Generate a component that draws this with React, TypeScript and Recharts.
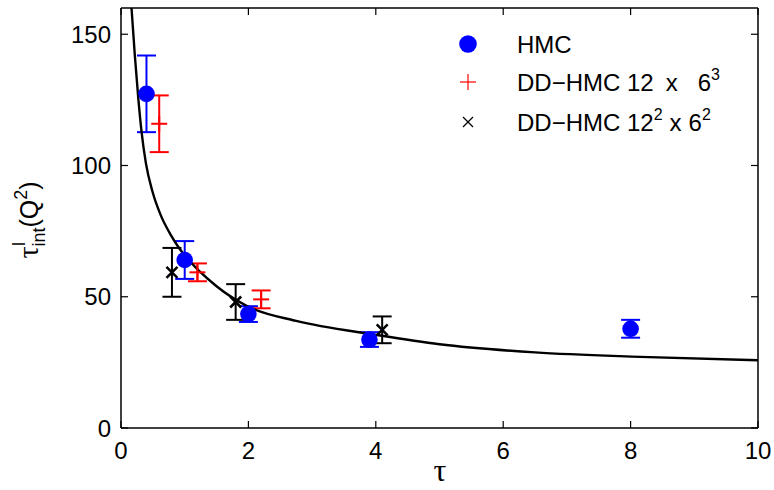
import { ComposedChart, ErrorBar, Legend, Line, Scatter, XAxis, YAxis } from "recharts"

const FONT = "'Liberation Sans', Arial, Helvetica, sans-serif"
const GREEK = "'Liberation Serif', 'DejaVu Serif', serif"
const BLUE = "#0000ff"
const RED = "#ff0000"
const BLACK = "#000000"

const X_TICKS = [0, 2, 4, 6, 8, 10]
const Y_TICKS = [0, 50, 100, 150]

// measurements, value +/- err
const HMC = [
  { tau: 0.4, value: 127.3, err: 14.6 },
  { tau: 1.0, value: 64.0, err: 7.2 },
  { tau: 2.0, value: 43.4, err: 3.0 },
  { tau: 3.9, value: 33.7, err: 2.8 },
  { tau: 8.0, value: 37.8, err: 3.4 },
]

const DD_HMC_12x6_3 = [
  { tau: 0.6, value: 115.9, err: 10.8 },
  { tau: 1.2, value: 59.3, err: 3.4 },
  { tau: 2.2, value: 49.0, err: 3.4 },
]

const DD_HMC_12_2x6_2 = [
  { tau: 0.8, value: 59.3, err: 9.3 },
  { tau: 1.8, value: 48.0, err: 6.8 },
  { tau: 4.1, value: 37.4, err: 5.1 },
]

// fit curve
const FIT_TAU = [0.165, 0.217, 0.27, 0.322, 0.39, 0.495, 0.625, 0.783, 0.914, 1.0, 1.5, 2.0, 2.75, 4.0, 5.0, 6.5, 8.15, 10]
const FIT_VALUE = [160, 142, 126, 113, 101, 90, 81, 73.5, 68.5, 65.8, 54, 46.2, 40.8, 35.5, 31.9, 28.8, 27.1, 25.8]

const fit = FIT_TAU.map((tau, i) => ({ tau, value: FIT_VALUE[i] }))

const FRAME = { stroke: BLACK, strokeWidth: 1.5 }
const TICK_LINE = { stroke: BLACK, strokeWidth: 1.2 }

const BottomTick = ({ x, y, payload }: any) => (
  <g>
    <line x1={x} y1={y} x2={x} y2={y - 7} stroke={BLACK} strokeWidth={1.2} />
    <text x={x} y={y + 31} textAnchor="middle" fontSize={24} fontFamily={FONT} fill={BLACK}>
      {payload.value}
    </text>
  </g>
)

const LeftTick = ({ x, y, payload }: any) => (
  <g>
    <line x1={x} y1={y} x2={x + 7} y2={y} stroke={BLACK} strokeWidth={1.2} />
    <text x={x - 10} y={y + 8.5} textAnchor="end" fontSize={24} fontFamily={FONT} fill={BLACK}>
      {payload.value}
    </text>
  </g>
)

const EmptyTick = () => <g />

const BlueDot = ({ cx, cy }: any) => <circle cx={cx} cy={cy} r={8.3} fill={BLUE} />

const RedPlus = ({ cx, cy }: any) => (
  <g stroke={RED} strokeWidth={2}>
    <line x1={cx - 8} y1={cy} x2={cx + 8} y2={cy} />
    <line x1={cx} y1={cy - 8} x2={cx} y2={cy + 8} />
  </g>
)

const BlackCross = ({ cx, cy }: any) => (
  <g stroke={BLACK} strokeWidth={2.5}>
    <line x1={cx - 5.5} y1={cy - 5.5} x2={cx + 5.5} y2={cy + 5.5} />
    <line x1={cx - 5.5} y1={cy + 5.5} x2={cx + 5.5} y2={cy - 5.5} />
  </g>
)

const XTitle = () => (
  <text x={440} y={481} textAnchor="middle" fontSize={32} fontFamily={GREEK} fill={BLACK}>
    τ
  </text>
)

const YTitle = () => (
  <text transform="translate(38,220) rotate(-90)" textAnchor="middle" fontSize={25} fontFamily={FONT} fill={BLACK}>
    <tspan fontFamily={GREEK} fontSize={30}>τ</tspan>
    <tspan fontSize={18} dy={-13}>I</tspan>
    <tspan fontSize={18} dx={-5} dy={20}>int</tspan>
    <tspan dy={-7}>(Q</tspan>
    <tspan fontSize={18} dy={-11}>2</tspan>
    <tspan dy={11}>)</tspan>
  </text>
)

const LegendBox = () => (
  <svg width={330} height={130} style={{ display: "block" }}>
    <g fontSize={24} fontFamily={FONT} fill={BLACK}>
      <circle cx={28} cy={24} r={8.8} fill={BLUE} />
      <text x={77} y={33}>HMC</text>

      <g stroke={RED} strokeWidth={1.2}>
        <line x1={20} y1={62} x2={36} y2={62} />
        <line x1={28} y1={54} x2={28} y2={70} />
      </g>
      <text x={77} y={71}>
        DD−HMC 12
        <tspan dx={12}>x</tspan>
        <tspan dx={20}>6</tspan>
        <tspan fontSize={16} dy={-11}>3</tspan>
      </text>

      <g stroke={BLACK} strokeWidth={1.2}>
        <line x1={23} y1={97} x2={33} y2={107} />
        <line x1={23} y1={107} x2={33} y2={97} />
      </g>
      <text x={77} y={111}>
        DD−HMC 12
        <tspan fontSize={16} dy={-11}>2</tspan>
        <tspan dx={7} dy={11}>x</tspan>
        <tspan dx={7}>6</tspan>
        <tspan fontSize={16} dy={-11}>2</tspan>
      </text>
    </g>
  </svg>
)

export default function App() {
  return (
    <div style={{ position: "absolute", left: 0, top: 0, background: "#fff" }}>
      <ComposedChart width={774} height={490} data={fit} margin={{ top: 8, right: 16, left: 0, bottom: 0 }}>
        <XAxis
          xAxisId="bottom"
          dataKey="tau"
          type="number"
          domain={[0, 10]}
          ticks={X_TICKS}
          allowDataOverflow
          height={62}
          tickSize={0}
          tickMargin={0}
          tickLine={false}
          tick={<BottomTick />}
          axisLine={FRAME}
          label={XTitle}
        />
        {/* the box on top and right, with ticks pointing inward */}
        <XAxis
          xAxisId="top"
          dataKey="tau"
          orientation="top"
          type="number"
          domain={[0, 10]}
          ticks={X_TICKS}
          allowDataOverflow
          height={1}
          mirror
          tick={EmptyTick}
          tickSize={7}
          tickLine={TICK_LINE}
          axisLine={FRAME}
        />
        <YAxis
          yAxisId="left"
          dataKey="value"
          type="number"
          domain={[0, 160]}
          ticks={Y_TICKS}
          allowDataOverflow
          width={121}
          tickSize={0}
          tickMargin={0}
          tickLine={false}
          tick={<LeftTick />}
          axisLine={FRAME}
          label={YTitle}
        />
        <YAxis
          yAxisId="right"
          dataKey="value"
          orientation="right"
          type="number"
          domain={[0, 160]}
          ticks={Y_TICKS}
          allowDataOverflow
          width={1}
          mirror
          tick={EmptyTick}
          tickSize={7}
          tickLine={TICK_LINE}
          axisLine={FRAME}
        />

        <Scatter
          xAxisId="bottom"
          yAxisId="left"
          data={HMC}
          dataKey="value"
          shape={<BlueDot />}
          isAnimationActive={false}
        >
          <ErrorBar dataKey="err" direction="y" width={9.5} stroke={BLUE} strokeWidth={2} isAnimationActive={false} />
        </Scatter>
        <Scatter
          xAxisId="bottom"
          yAxisId="left"
          data={DD_HMC_12x6_3}
          dataKey="value"
          shape={<RedPlus />}
          isAnimationActive={false}
        >
          <ErrorBar dataKey="err" direction="y" width={9.5} stroke={RED} strokeWidth={2} isAnimationActive={false} />
        </Scatter>
        <Scatter
          xAxisId="bottom"
          yAxisId="left"
          data={DD_HMC_12_2x6_2}
          dataKey="value"
          shape={<BlackCross />}
          isAnimationActive={false}
        >
          <ErrorBar dataKey="err" direction="y" width={9.5} stroke={BLACK} strokeWidth={2} isAnimationActive={false} />
        </Scatter>
        <Line
          xAxisId="bottom"
          yAxisId="left"
          dataKey="value"
          type="monotone"
          dot={false}
          stroke={BLACK}
          strokeWidth={2.4}
          isAnimationActive={false}
        />

        <Legend
          layout="vertical"
          align="center"
          verticalAlign="middle"
          content={() => <LegendBox />}
          wrapperStyle={{ left: 440, top: 20, width: 330, height: 130 }}
        />
      </ComposedChart>
    </div>
  )
}
